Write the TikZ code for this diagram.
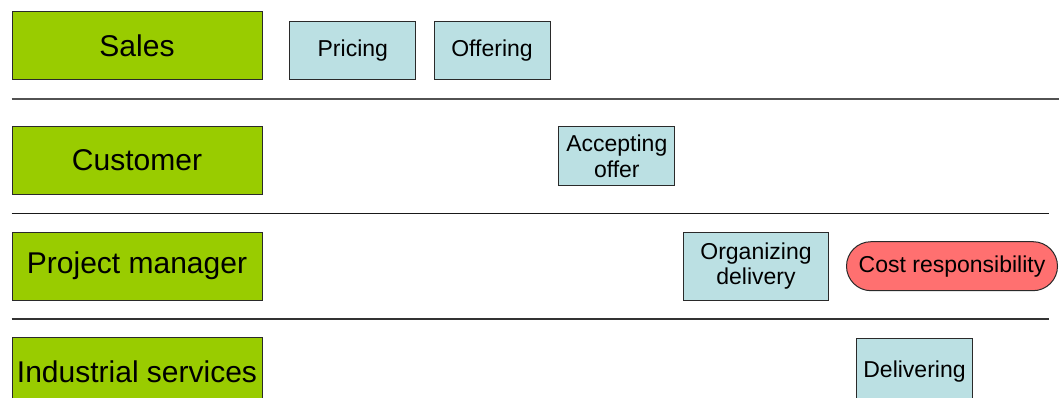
\documentclass[tikz,border=0pt]{standalone}
\usepackage{fontspec}
\setmainfont{Liberation Sans}
\usetikzlibrary{shapes.misc}
\definecolor{rolegreen}{HTML}{99CC00}
\definecolor{taskblue}{HTML}{BBE0E3}
\definecolor{costred}{HTML}{FF7070}
\definecolor{edgegray}{HTML}{2A2A2A}
\begin{document}
\begin{tikzpicture}[x=1pt,y=-1pt,
  role/.style={draw=edgegray,line width=1pt,fill=rolegreen,inner sep=0pt,
    minimum width=250pt,minimum height=68pt,font=\fontsize{30}{36}\selectfont},
  task/.style={draw=edgegray,line width=1pt,fill=taskblue,inner sep=0pt,align=center,
    font=\fontsize{23}{25.7}\selectfont},
  costnode/.style={draw=edgegray,line width=1pt,fill=costred,inner sep=0pt,
    rounded rectangle,minimum width=211pt,minimum height=49pt,font=\fontsize{23}{25.7}\selectfont},
  sepline/.style={line width=1.4pt}]
\useasboundingbox (0,0) rectangle (1064,398);
\begin{scope}
\clip (0,0) rectangle (1064,398);
\node[role] (sales) at (137,46) {Sales};
\node[role] (customer) at (137,160.5) {Customer};
\node[role] (pm) at (137,266) {Project manager};
\node[role] (is) at (137,371.7) {Industrial services};
\node[task,minimum width=125.7pt,minimum height=58pt] (pricing) at (352.8,51) {Pricing};
\node[task,minimum width=116pt,minimum height=58pt] (offering) at (492,51) {Offering};
\node[task,minimum width=116.3pt,minimum height=58.3pt] (accepting) at (616.8,156) {Accepting\\offer};
\node[task,minimum width=144.6pt,minimum height=67.7pt] (organizing) at (756,266.2) {Organizing\\delivery};
\node[costnode] (cost) at (952,266.2) {Cost responsibility};
\node[task,minimum width=115.6pt,minimum height=68pt] (delivering) at (914.5,372) {Delivering};
\draw[line width=2pt,draw=black!68] (11.5,99) -- (1058.7,99);
\draw[line width=1.3pt,draw=black!90] (11.5,213.5) -- (1049,213.5);
\draw[line width=1.5pt,draw=black!80] (11.5,318.8) -- (1049,318.8);
\end{scope}
\end{tikzpicture}
\end{document}
